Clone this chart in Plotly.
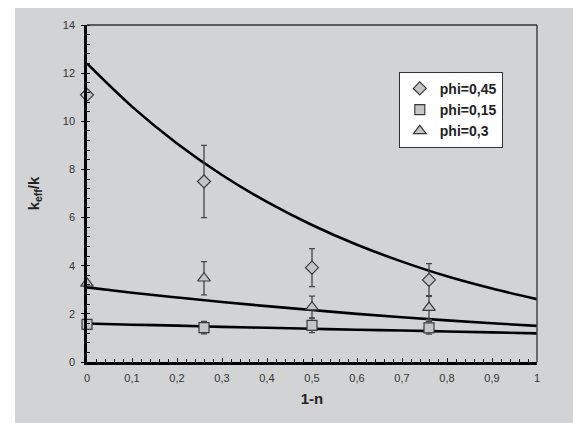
import plotly.graph_objects as go

# ---- data ----
x_pts = [0, 0.26, 0.5, 0.76]

phi045_y = [11.1, 7.5, 3.92, 3.41]
phi045_err = [0, 1.5, 0.79, 0.68]

phi015_y = [1.56, 1.43, 1.52, 1.42]
phi015_err = [0, 0.26, 0.3, 0.26]

phi03_y = [3.27, 3.48, 2.28, 2.26]
phi03_err = [0, 0.69, 0.46, 0.5]

x_curve = [0, 0.1, 0.2, 0.3, 0.4, 0.5, 0.6, 0.7, 0.8, 0.9, 1.0]
curve045 = [12.4, 10.61, 9.08, 7.77, 6.65, 5.69, 4.87, 4.17, 3.56, 3.05, 2.61]
curve03 = [3.1, 2.88, 2.68, 2.49, 2.32, 2.16, 2.0, 1.86, 1.73, 1.61, 1.5]
curve015 = [1.6, 1.55, 1.51, 1.46, 1.42, 1.38, 1.34, 1.31, 1.27, 1.23, 1.19]

x_tickvals = [0, 0.1, 0.2, 0.3, 0.4, 0.5, 0.6, 0.7, 0.8, 0.9, 1.0]
x_ticktext = ["0", "0,1", "0,2", "0,3", "0,4", "0,5", "0,6", "0,7", "0,8", "0,9", "1"]
y_tickvals = [0, 2, 4, 6, 8, 10, 12, 14]

BG = "#d2d3d5"
MFILL = "#c4c5c7"
MLINE = "#3a3a3a"

fig = go.Figure()

for cy in (curve045, curve03, curve015):
    fig.add_trace(go.Scatter(x=x_curve, y=cy, mode="lines", line=dict(color="black", width=2.6, shape="spline"),
                             showlegend=False, hoverinfo="skip"))

def pts(name, y, err, symbol, size):
    return go.Scatter(
        x=x_pts, y=y, name=name, mode="markers", cliponaxis=False,
        marker=dict(symbol=symbol, size=size, color=MFILL, line=dict(color=MLINE, width=1.2)),
        error_y=dict(type="data", array=err, visible=True, color="#444", thickness=1.3, width=3),
    )

fig.add_trace(pts("phi=0,45", phi045_y, phi045_err, "diamond", 10))
fig.add_trace(pts("phi=0,15", phi015_y, phi015_err, "square", 10))
fig.add_trace(pts("phi=0,3", phi03_y, phi03_err, "triangle-up", 11))

fig.update_layout(
    width=573, height=423,
    margin=dict(l=87, r=36, t=25, b=61),
    paper_bgcolor=BG, plot_bgcolor=BG,
    font=dict(family="Liberation Sans, Arial, sans-serif", color="#333"),
    legend=dict(x=0.924, y=0.861, xanchor="right", yanchor="top",
                bgcolor="white", bordercolor="#333", borderwidth=1,
                font=dict(size=14, color="#222", family="Liberation Sans, Arial, sans-serif", weight="bold"),
                itemwidth=30, tracegroupgap=0),
    shapes=[
        dict(type="rect", xref="paper", yref="paper", x0=-0.3, x1=-0.16, y0=-0.3, y1=1.2,
             fillcolor="white", line=dict(width=0), layer="below"),
        dict(type="rect", xref="paper", yref="paper", x0=-0.3, x1=1.2, y0=1.0504, y1=1.2,
             fillcolor="white", line=dict(width=0), layer="below"),
        dict(type="line", xref="paper", yref="paper", x0=0, x1=1, y0=1, y1=1,
             line=dict(color="#333", width=1.5)),
        dict(type="line", xref="paper", yref="paper", x0=1, x1=1, y0=0, y1=1,
             line=dict(color="#444", width=1.5)),
    ],
)

fig.update_xaxes(
    range=[0, 1], tickvals=x_tickvals, ticktext=x_ticktext,
    showgrid=False, zeroline=False, showline=True, linecolor="black", linewidth=2.5,
    ticks="inside", ticklen=4, tickcolor="black", tickwidth=1, ticklabelstandoff=4,
    minor=dict(dtick=0.02, ticks="inside", ticklen=3, tickcolor="black", tickwidth=1, showgrid=False),
    tickfont=dict(size=11, color="#333"),
    title=dict(text="<b>1-n</b>", font=dict(size=15, color="#222"), standoff=11),
)
fig.update_yaxes(
    range=[0, 14], tickvals=y_tickvals,
    showgrid=False, zeroline=False, showline=True, linecolor="black", linewidth=2.5,
    ticks="outside", ticklen=3, tickcolor="black", tickwidth=1, ticklabelstandoff=4,
    minor=dict(dtick=0.4, ticks="inside", ticklen=3, tickcolor="black", tickwidth=1, showgrid=False),
    tickfont=dict(size=11, color="#333"),
    title=dict(text="<b>k<sub>eff</sub>/k</b>", font=dict(size=15, color="#222"), standoff=20),
)

fig.write_html("out.html", config={"displayModeBar": False},
               post_script=("document.body.style.margin='0';document.body.style.overflow='hidden';"
                            "document.body.style.background='%s';"
                            "document.documentElement.style.background='%s';") % (BG, BG))
